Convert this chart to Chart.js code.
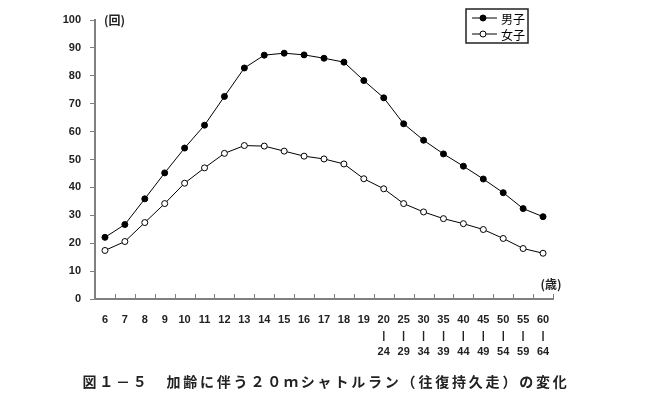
<!DOCTYPE html>
<html>
<head>
<meta charset="utf-8">
<script src="https://cdn.jsdelivr.net/npm/chart.js@4"></script>
<style>
  html, body { margin: 0; padding: 0; background: #fff; }
  #wrap { width: 650px; height: 400px; position: relative; }
</style>
</head>
<body>
<div id="wrap"><canvas id="grafico" width="650" height="400"></canvas></div>
<script>
// 年齢区分（上段／下段）
const ageFrom = ['6', '7', '8', '9', '10', '11', '12', '13', '14', '15', '16', '17', '18', '19',
                 '20', '25', '30', '35', '40', '45', '50', '55', '60'];
const ageTo = ['', '', '', '', '', '', '', '', '', '', '', '', '', '',
               '24', '29', '34', '39', '44', '49', '54', '59', '64'];

// 20mシャトルラン（回）
const boys = [22.1, 26.7, 35.9, 45.2, 54.1, 62.3, 72.6, 82.8, 87.4, 88.1, 87.5, 86.3, 84.9, 78.3,
              72.1, 62.8, 56.9, 52.0, 47.6, 43.0, 38.1, 32.4, 29.5];
const girls = [17.4, 20.6, 27.4, 34.2, 41.5, 47.0, 52.2, 55.0, 54.8, 53.0, 51.2, 50.2, 48.4, 43.1,
               39.5, 34.2, 31.2, 28.8, 27.0, 24.9, 21.7, 18.1, 16.4];

const seriesNames = ['男子', '女子'];
const yUnit = '(回)';
const xUnit = '(歳)';
const figTitle = '図１－５　加齢に伴う２０ｍシャトルラン（往復持久走）の変化';

const labels = ageFrom.map((a, i) => ageTo[i] ? [a, '|', ageTo[i]] : a);

const numFont = '"Liberation Sans", Arial, sans-serif';
const jpFont = '"Noto Sans CJK JP", sans-serif';
const axisGray = '#808080';

// 補助描画：x軸の内向き目盛、単位、凡例、図題
const extras = {
    id: 'extras',
    afterDraw(chart) {
        const ctx = chart.ctx;
        const xs = chart.scales.x;
        const ys = chart.scales.y;
        const n = xs.ticks.length;
        const step = xs.width / n;
        ctx.save();

        // x軸の目盛（内側）
        ctx.strokeStyle = axisGray;
        ctx.lineWidth = 1;
        for (let i = 1; i <= n; i++) {
            const x = Math.round(xs.left + i * step) + 0.5;
            ctx.beginPath();
            ctx.moveTo(x, xs.top);
            ctx.lineTo(x, xs.top - 5);
            ctx.stroke();
        }

        // 単位
        ctx.fillStyle = '#222';
        ctx.font = 'bold 12px ' + jpFont;
        ctx.textBaseline = 'middle';
        ctx.textAlign = 'left';
        ctx.fillText(yUnit, ys.right + 9, ys.getPixelForValue(100));
        ctx.textAlign = 'center';
        ctx.fillText(xUnit, xs.right - 2, ys.getPixelForValue(5.2));

        // 凡例
        const lx = 466, ly = 9, lw = 62, lh = 34;
        ctx.strokeStyle = '#222';
        ctx.lineWidth = 1.5;
        ctx.strokeRect(lx, ly, lw, lh);
        chart.data.datasets.forEach((ds, k) => {
            const cy = ly + 9 + k * 16;
            ctx.strokeStyle = '#000';
            ctx.lineWidth = 1;
            ctx.beginPath();
            ctx.moveTo(lx + 6, cy);
            ctx.lineTo(lx + 31, cy);
            ctx.stroke();
            ctx.beginPath();
            ctx.arc(lx + 17, cy, 3, 0, Math.PI * 2);
            ctx.fillStyle = ds.pointBackgroundColor;
            ctx.fill();
            ctx.stroke();
            ctx.fillStyle = '#000';
            ctx.font = '12px ' + jpFont;
            ctx.textAlign = 'left';
            ctx.fillText(ds.label, lx + 35, cy + 1);
        });

        // 図題
        ctx.fillStyle = '#222';
        ctx.font = 'bold 14px ' + jpFont;
        ctx.letterSpacing = '2.8px';
        ctx.textAlign = 'center';
        ctx.fillText(figTitle, 326, 382);
        ctx.restore();
    }
};

window.onload = function () {
    const ctx = document.getElementById('grafico').getContext('2d');
    new Chart(ctx, {
        type: 'line',
        data: {
            labels: labels,
            datasets: [
                {
                    label: seriesNames[0],
                    data: boys,
                    borderColor: '#000',
                    borderWidth: 1,
                    pointRadius: 3,
                    pointBorderWidth: 1,
                    pointBackgroundColor: '#000',
                    pointBorderColor: '#000',
                    tension: 0
                },
                {
                    label: seriesNames[1],
                    data: girls,
                    borderColor: '#000',
                    borderWidth: 1,
                    pointRadius: 3,
                    pointBorderWidth: 1,
                    pointBackgroundColor: '#fff',
                    pointBorderColor: '#000',
                    tension: 0
                }
            ]
        },
        options: {
            responsive: false,
            animation: false,
            layout: { padding: { left: 0, right: 97, top: 20, bottom: 0 } },
            plugins: {
                legend: { display: false },
                title: { display: false },
                tooltip: { enabled: false }
            },
            scales: {
                x: {
                    type: 'category',
                    offset: true,
                    afterFit: s => { s.height = 101; },
                    border: { color: axisGray, width: 2 },
                    grid: { display: false, drawTicks: false },
                    ticks: {
                        autoSkip: false,
                        maxRotation: 0,
                        padding: 13,
                        color: '#222',
                        font: { family: numFont, size: 11, weight: 'bold', lineHeight: 1.45 }
                    }
                },
                y: {
                    min: 0,
                    max: 100,
                    afterFit: s => { s.width = 95; },
                    border: { color: axisGray, width: 2 },
                    grid: { drawOnChartArea: false, drawTicks: true, tickLength: 5, color: axisGray },
                    ticks: {
                        stepSize: 10,
                        padding: 9,
                        color: '#222',
                        font: { family: numFont, size: 11, weight: 'bold' }
                    }
                }
            }
        },
        plugins: [extras]
    });
};
</script>
</body>
</html>
